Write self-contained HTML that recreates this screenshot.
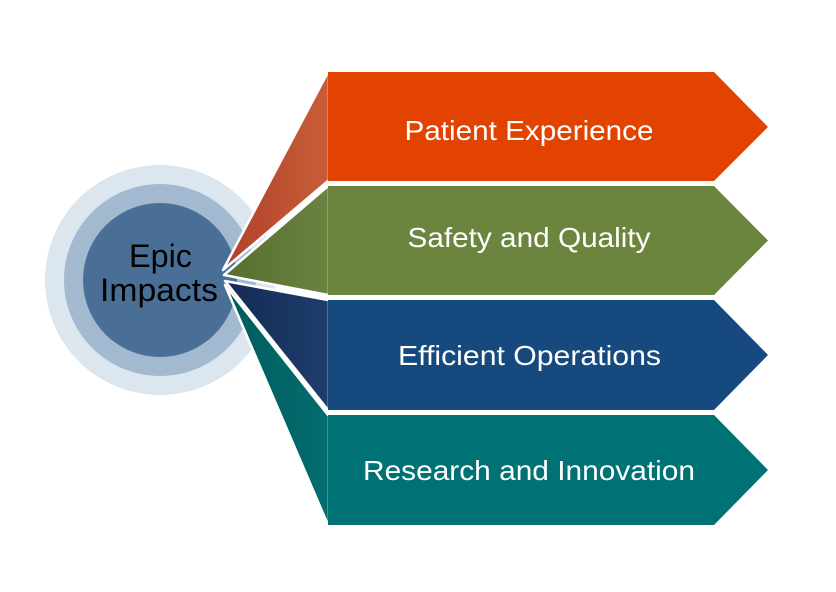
<!DOCTYPE html>
<html>
<head>
<meta charset="utf-8">
<style>
  html, body { margin: 0; padding: 0; background: #ffffff; }
  body { width: 836px; height: 592px; overflow: hidden; }
  svg { display: block; }
  text { font-family: "Liberation Sans", sans-serif; }
</style>
</head>
<body>
<svg width="836" height="592" viewBox="0 0 836 592" xmlns="http://www.w3.org/2000/svg">
  <defs>
    <linearGradient id="gOr" x1="0" y1="0" x2="1" y2="0">
      <stop offset="0" stop-color="#b0412a"/>
      <stop offset="1" stop-color="#c75e38"/>
    </linearGradient>
    <linearGradient id="gGr" x1="0" y1="0" x2="1" y2="0">
      <stop offset="0" stop-color="#566e30"/>
      <stop offset="1" stop-color="#6a8340"/>
    </linearGradient>
    <linearGradient id="gBl" x1="0" y1="0" x2="1" y2="0">
      <stop offset="0" stop-color="#132a54"/>
      <stop offset="1" stop-color="#1f3e6c"/>
    </linearGradient>
    <linearGradient id="gTe" x1="0" y1="0" x2="1" y2="0">
      <stop offset="0" stop-color="#015b5b"/>
      <stop offset="1" stop-color="#036d6f"/>
    </linearGradient>
  </defs>

  <!-- Circles -->
  <circle cx="160" cy="280" r="115" fill="#dce6ef"/>
  <circle cx="160" cy="280" r="96" fill="#a3b9d0"/>
  <circle cx="160" cy="280" r="77" fill="#4a6f96"/>

  <!-- Wedges -->
  <polygon points="223,270 328,72 329,72 329,181 328,181" fill="url(#gOr)" stroke="#ffffff" stroke-width="2.5" stroke-linejoin="round"/>
  <polygon points="224,275 328,186 329,186 329,295 328,295" fill="url(#gGr)" stroke="#ffffff" stroke-width="2.5" stroke-linejoin="round"/>
  <polygon points="225,281 328,300 329,300 329,410 328,410" fill="url(#gBl)" stroke="#ffffff" stroke-width="2.5" stroke-linejoin="round"/>
  <polygon points="225,285 328,415 329,415 329,525 328,525" fill="url(#gTe)" stroke="#ffffff" stroke-width="2.5" stroke-linejoin="round"/>

  <!-- Arrow boxes -->
  <polygon points="328,72 714,72 768,127 714,181 328,181" fill="#e24300"/>
  <polygon points="328,186 714,186 768,240.5 714,295 328,295" fill="#6b843e"/>
  <polygon points="328,300 714,300 768,355 714,410 328,410" fill="#164a7e"/>
  <polygon points="328,415 714,415 768,470 714,525 328,525" fill="#007175"/>

  <!-- Labels -->
  <text x="529" y="140" font-size="28" fill="#ffffff" text-anchor="middle" textLength="249" lengthAdjust="spacingAndGlyphs">Patient Experience</text>
  <text x="529" y="247" font-size="28" fill="#ffffff" text-anchor="middle" textLength="243" lengthAdjust="spacingAndGlyphs">Safety and Quality</text>
  <text x="529.5" y="365" font-size="28" fill="#ffffff" text-anchor="middle" textLength="263" lengthAdjust="spacingAndGlyphs">Efficient Operations</text>
  <text x="529" y="480" font-size="28" fill="#ffffff" text-anchor="middle" textLength="332" lengthAdjust="spacingAndGlyphs">Research and Innovation</text>

  <!-- Center text -->
  <text x="160.5" y="267" font-size="32" fill="#000000" text-anchor="middle" textLength="63" lengthAdjust="spacingAndGlyphs">Epic</text>
  <text x="159" y="301" font-size="32" fill="#000000" text-anchor="middle" textLength="118" lengthAdjust="spacingAndGlyphs">Impacts</text>
</svg>
</body>
</html>
